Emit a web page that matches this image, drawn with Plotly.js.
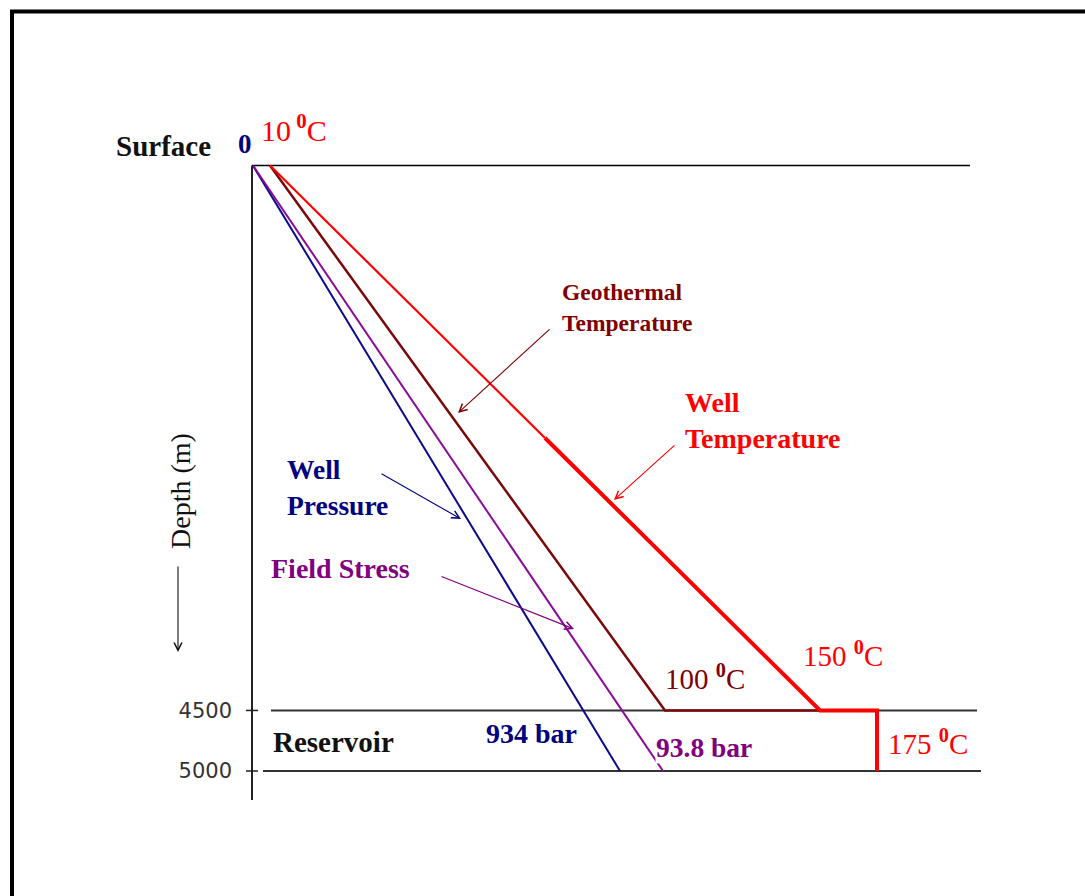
<!DOCTYPE html>
<html>
<head>
<meta charset="utf-8">
<script src="https://cdn.plot.ly/plotly-3.0.1.min.js"></script>
<style>
  html, body { margin: 0; padding: 0; background: #ffffff; }
  #chart { width: 1085px; height: 896px; }
</style>
</head>
<body>
<div id="chart"></div>
<script>
// Schematic of a geothermal well: depth (m) downward, horizontal offset in schematic units.
const depthTicks = [4500, 5000];
const axisDepthExtent = [0, 5240];

// Layer boundaries: surface, top and base of the reservoir
const boundaryDepth = [0, 4500, 5000];
const boundaryFrom = [252, 271, 263];
const boundaryTo = [970, 977, 981];

// Well pressure (0 bar at surface -> 934 bar at 5000 m)
const pressureDepth = [0, 5000];
const pressureOffset = [253, 620];

// Field stress (-> 93.8 bar at 5000 m)
const stressDepth = [0, 5000];
const stressOffset = [253, 663];

// Geothermal temperature (10 °C -> 100 °C at 4500 m)
const geoDepth = [0, 4500, 4500];
const geoOffset = [270, 665, 820];

// Well temperature (10 °C -> 150 °C at 4500 m -> 175 °C in the reservoir)
const wellTempDepthUpper = [0, 2250];
const wellTempOffsetUpper = [270, 545];
const wellTempDepthLower = [2250, 4500, 4500, 5000];
const wellTempOffsetLower = [545, 820, 877, 877];

const W = 1085, H = 896;
const px = x => x / W;
const py = y => 1 - y / H;

const NAVY = '#000080', PURPLE = '#800080', MAROON = '#800000', RED = '#ff0000';
const SERIF = 'Liberation Serif, Times New Roman, serif';

function line(x, y, color, width) {
  return { x: x, y: y, type: 'scatter', mode: 'lines', hoverinfo: 'skip', showlegend: false,
           line: { color: color, width: width } };
}

const traces = [
  line(pressureOffset, pressureDepth, '#0b0b8c', 2),
  line(stressOffset, stressDepth, '#8a0c98', 2),
  line(geoOffset, geoDepth, '#7a0a0a', 2.5),
  line(wellTempOffsetUpper, wellTempDepthUpper, RED, 2.2),
  line(wellTempOffsetLower, wellTempDepthLower, RED, 4)
];

const shapes = [];
// Frame
shapes.push({ type: 'path', xref: 'paper', yref: 'paper', layer: 'above',
  path: `M ${px(W)} ${py(11.5)} L ${px(12)} ${py(11.5)} L ${px(12)} ${py(H)}`,
  line: { color: '#000', width: 4 } });
// Depth axis line
shapes.push({ type: 'line', xref: 'x', yref: 'y', layer: 'below',
  x0: 252, x1: 252, y0: axisDepthExtent[0], y1: axisDepthExtent[1],
  line: { color: '#222', width: 2 } });
// Axis ticks
depthTicks.forEach(d => shapes.push({ type: 'line', xref: 'x', yref: 'y', layer: 'below',
  x0: 246, x1: 258, y0: d, y1: d, line: { color: '#222', width: 1.5 } }));
// Boundaries
boundaryDepth.forEach((d, i) => shapes.push({ type: 'line', xref: 'x', yref: 'y', layer: 'below',
  x0: boundaryFrom[i], x1: boundaryTo[i], y0: d, y1: d,
  line: { color: i === 0 ? '#000' : '#333', width: i === 0 ? 1.5 : 2 } }));

function label(text, x, y, color, size, extra) {
  return Object.assign({ text: text, xref: 'paper', yref: 'paper', x: px(x), y: py(y),
    xanchor: 'left', yanchor: 'middle', showarrow: false, align: 'left',
    font: { family: SERIF, size: size, color: color } }, extra || {});
}
function arrow(tipX, tipY, tailX, tailY, color) {
  return { text: '', xref: 'paper', yref: 'paper', x: px(tipX), y: py(tipY),
    ax: tailX - tipX, ay: tailY - tipY, showarrow: true, arrowhead: 5, arrowsize: 1.4,
    arrowwidth: 1.1, arrowcolor: color, standoff: 0 };
}

const annotations = [
  label('<b>Surface</b>', 114, 146, '#111', 29),
  label('<b>0</b>', 236, 144, NAVY, 27),
  label('10<sup> <b>0</b></sup>C', 259, 128, RED, 30),
  label('<b>Geothermal<br>Temperature</b>', 560, 307, MAROON, 23.5),
  label('<b>Well<br>Temperature</b>', 683, 420, RED, 28),
  label('<b>Well<br>Pressure</b>', 285, 488, NAVY, 27.5),
  label('<b>Field Stress</b>', 269, 568, PURPLE, 28),
  label('100 <sup><b>0</b></sup>C', 663, 677, MAROON, 29),
  label('150 <sup><b>0</b></sup>C', 801, 654, RED, 29),
  label('175 <sup><b>0</b></sup>C', 886, 742, RED, 29),
  label('<b>Reservoir</b>', 271, 742, '#111', 29),
  label('<b>934 bar</b>', 484, 733, NAVY, 28),
  label('<b>93.8 bar</b>', 655, 747, PURPLE, 27.5, { bgcolor: '#ffffff', borderpad: 0 }),
  label('Depth (m)', 180, 491, '#111', 28, { xanchor: 'center', textangle: -90 }),
  arrow(458, 413, 551, 328, MAROON),
  arrow(614, 500, 676, 444, RED),
  arrow(461, 519, 380, 473, NAVY),
  arrow(574, 629, 440, 576, PURPLE),
  arrow(178, 652, 178, 565, '#111')
];

const layout = {
  width: W, height: H,
  margin: { l: 0, r: 0, t: 0, b: 0, pad: 0 },
  paper_bgcolor: '#ffffff', plot_bgcolor: '#ffffff',
  showlegend: false,
  xaxis: { range: [0, W], visible: false, fixedrange: true },
  yaxis: { range: [6032.4, -1367.2], anchor: 'free', position: px(252), automargin: false,
    tickvals: depthTicks, ticktext: depthTicks.map(String), ticks: '', ticklabelstandoff: 20,
    showline: false, showgrid: false, zeroline: false, fixedrange: true,
    tickfont: { family: 'DejaVu Sans, sans-serif', size: 21, color: '#333' } },
  shapes: shapes,
  annotations: annotations
};

Plotly.newPlot('chart', traces, layout, { displayModeBar: false, staticPlot: true });
</script>
</body>
</html>
